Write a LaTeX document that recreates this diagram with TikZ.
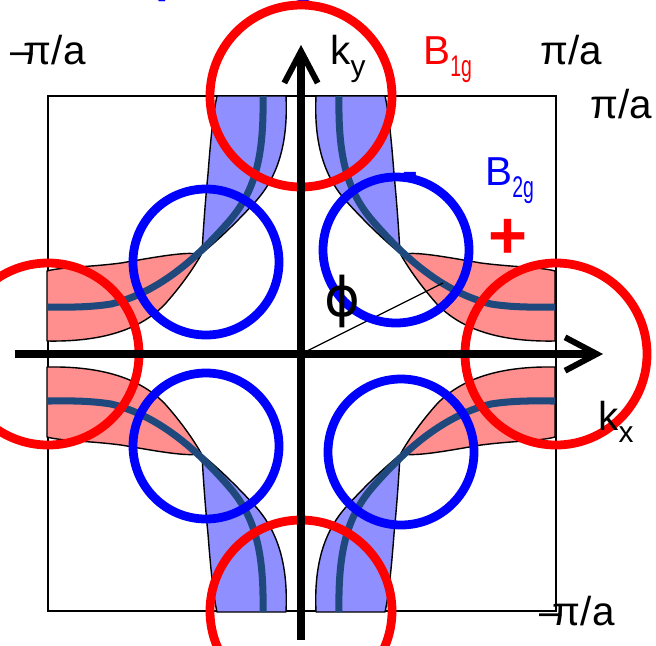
\documentclass[tikz,border=0pt]{standalone}
\usepackage{fontspec}
\usepackage{graphicx}
\setmainfont{Liberation Sans}
\newfontfamily\phifont{DejaVu Sans}
\usetikzlibrary{arrows.meta}

\definecolor{lobered}{RGB}{255,143,143}
\definecolor{lobeblue}{RGB}{143,143,255}
\definecolor{fsnavy}{RGB}{31,73,125}
\definecolor{bonered}{RGB}{255,0,0}
\definecolor{btwoblue}{RGB}{0,0,255}

\newcommand{\lowsub}[1]{\raisebox{-0.32em}{\fontsize{17}{17}\selectfont #1}}

% one quadrant of the Fermi surface (upper left), mirrored for the others
\newcommand{\fsquadrant}{%
  \draw[lobe, fill=lobered] (-254,83) -- (-254,13)
    .. controls (-200,12) and (-160,24) .. (-135,51)
    .. controls (-120,68) and (-108,85) .. (-100,99)
    .. controls (-110,104) and (-150,96) .. (-180,91)
    .. controls (-210,87) and (-240,87) .. (-254,83) -- cycle;
  \draw[lobe, fill=lobeblue] (-15,258)
    .. controls (-13,215) and (-21,180) .. (-45,153)
    .. controls (-65,131) and (-85,112) .. (-99,101)
    .. controls (-98,120) and (-96,150) .. (-93,180)
    .. controls (-90,220) and (-87,245) .. (-84,258) -- cycle;
  \draw[fsline] (-38,258)
    .. controls (-37,200) and (-45,165) .. (-70,135)
    .. controls (-100,100) and (-140,62) .. (-190,50)
    .. controls (-215,46) and (-240,47) .. (-254,47);
}

\begin{document}
\begin{tikzpicture}[
    scale=0.02,
    zone/.style={draw, line width=0.8pt},
    lobe/.style={draw=black, line width=0.8pt, line join=round},
    fsline/.style={draw=fsnavy, line width=4pt},
    ring/.style={line width=5pt},
    axis/.style={line width=4pt,
        -{Straight Barb[length=18pt, width=19pt, line width=3.4pt]}},
    lbl/.style={font=\fontsize{23}{27}\selectfont, inner sep=0pt,
        anchor=base west}
]

\useasboundingbox (-301,-291) rectangle (355,354);
\clip (-301,-291) rectangle (355,354);

% --- title (cut off at the top) ---
\node[font=\bfseries\fontsize{28}{32}\selectfont, text=btwoblue,
      inner sep=0pt, anchor=base west] (title) at (-326,363) {d-wave pairing};

% --- Brillouin zone ---
\draw[zone] (-253,-257) rectangle (255,258);

% --- Fermi surface lobes ---
\fsquadrant
\begin{scope}[xscale=-1] \fsquadrant \end{scope}
\begin{scope}[yscale=-1] \fsquadrant \end{scope}
\begin{scope}[xscale=-1, yscale=-1] \fsquadrant \end{scope}

% --- angle line ---
\coordinate (origin) at (0,0);
\coordinate (phiend) at (142,71);
\draw[line width=0.7pt] (origin) -- (phiend);

% --- B2g circles (nodes) ---
\draw[ring, draw=btwoblue] (-95,92) circle (73);
\draw[ring, draw=btwoblue] (95,104) circle (73);
\draw[ring, draw=btwoblue] (-95,-92) circle (73);
\draw[ring, draw=btwoblue] (100,-98) circle (73);

% --- B1g circles (antinodes) ---
\draw[ring, draw=bonered] (0,258) circle (91);
\draw[ring, draw=bonered] (0,-257) circle (91);
\draw[ring, draw=bonered] (-253,0) circle (91);
\draw[ring, draw=bonered] (255,0) circle (91);

% --- axes ---
\coordinate (kxstart) at (-286,0);
\coordinate (kxend) at (302,0);
\coordinate (kystart) at (0,-286);
\coordinate (kyend) at (0,309);
\draw[axis] (kxstart) -- (kxend);
\draw[axis] (kystart) -- (kyend);

% --- labels ---
\node[lbl] (mpitop) at (-291,290) {–\kern-0.22em π/a};
\node[lbl] (ky) at (29,290) {k\lowsub{y}};
\node[lbl, text=bonered] (bone) at (122,290)
    {B\lowsub{\scalebox{0.65}[1]{1g}}};
\node[lbl] (pitop) at (239,290) {π/a};
\node[lbl] (piright) at (289,236) {π/a};
\node[lbl, text=btwoblue] (btwo) at (184,169)
    {B\lowsub{\scalebox{0.65}[1]{2g}}};
\node[lbl] (kx) at (297,-76) {k\lowsub{x}};
\node[lbl] (mpibottom) at (238,-271) {–\kern-0.22em π/a};
\node[font=\phifont\fontsize{31}{35}\selectfont, inner sep=0pt] (phi)
    at (41,53) {ϕ};
\node[font=\bfseries\fontsize{27}{30}\selectfont, text=btwoblue,
      inner sep=0pt] (minus) at (109,174) {-};
\node[font=\bfseries\fontsize{38}{42}\selectfont, text=bonered,
      inner sep=0pt] (plus) at (207,115) {+};

\end{tikzpicture}
\end{document}
